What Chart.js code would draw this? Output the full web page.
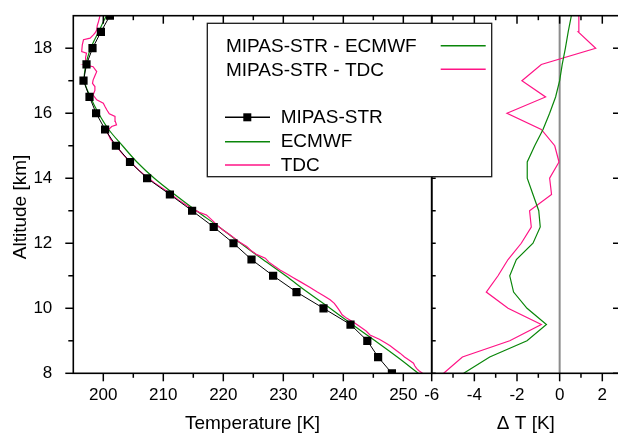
<!DOCTYPE html>
<html><head><meta charset="utf-8">
<script src="https://cdn.jsdelivr.net/npm/chart.js@4/dist/chart.umd.min.js"></script>
<style>
html,body{margin:0;padding:0;background:#fff;overflow:hidden;width:618px;height:435px;}
#wrap{position:relative;width:618px;height:435px;overflow:hidden;}
canvas{position:absolute;left:0;top:0;}
</style></head><body>
<div id="wrap">
<canvas id="c1" width="618" height="435"></canvas>
<canvas id="c2" width="630" height="435"></canvas>
</div>
<script>
// ---- data ----
const altitudes = [8, 8.5, 9, 9.5, 10, 10.5, 11, 11.5, 12, 12.5, 13, 13.5, 14, 14.5, 15, 15.5, 16, 16.5, 17, 17.5, 18, 18.5, 19];
const mipasTemp = [248.1, 245.8, 244.0, 241.2, 236.7, 232.2, 228.3, 224.7, 221.7, 218.4, 214.8, 211.1, 207.3, 204.45, 202.1, 200.3, 198.8, 197.7, 196.7, 197.2, 198.2, 199.6, 201.1];
const ecmwfTemp = [252.5, 249.0, 245.3, 241.5, 237.8, 234.0, 230.4, 226.6, 222.9, 219.3, 215.5, 211.9, 208.5, 205.6, 203.2, 200.9, 199.2, 197.85, 196.85, 197.1, 197.9, 199.2, 200.5];
const tdcAlt = [8.00, 8.08, 8.15, 8.23, 8.31, 8.40, 8.50, 8.62, 8.75, 8.85, 8.92, 9.05, 9.18, 9.30, 9.43, 9.55, 9.69, 9.80, 9.92, 10.05, 10.15, 10.26, 10.38, 10.51, 10.65, 10.82, 10.95, 11.05, 11.18, 11.30, 11.42, 11.54, 11.65, 11.78, 11.90, 12.05, 12.15, 12.26, 12.40, 12.55, 12.68, 12.82, 12.87, 12.95, 13.08, 13.20, 13.35, 13.54, 13.70, 13.85, 14.05, 14.25, 14.51, 14.75, 15.03, 15.20, 15.32, 15.43, 15.52, 15.59, 15.64, 15.75, 15.90, 15.98, 16.10, 16.20, 16.31, 16.41, 16.56, 16.70, 16.82, 16.92, 17.02, 17.15, 17.28, 17.43, 17.49, 17.60, 17.72, 17.85, 17.90, 18.10, 18.26, 18.31, 18.40, 18.46, 18.56, 18.70, 18.82, 19.00];
const tdcTemp = [253.2, 252.6, 252.2, 251.9, 251.7, 251.0, 250.2, 249.45, 248.5, 247.8, 247.2, 246.0, 244.45, 243.8, 242.8, 241.9, 240.6, 239.8, 239.4, 238.9, 238.5, 237.8, 236.8, 235.6, 234.4, 232.8, 231.6, 230.7, 229.45, 228.5, 227.6, 227.0, 225.6, 224.6, 223.9, 222.6, 221.9, 221.1, 220.0, 219.0, 218.3, 217.5, 217.2, 216.0, 214.7, 213.6, 212.4, 211.1, 209.8, 208.6, 207.2, 205.9, 204.45, 203.2, 202.0, 201.2, 200.9, 200.6, 201.0, 201.4, 202.2, 202.0, 201.95, 201.0, 200.6, 200.3, 200.0, 198.9, 198.3, 198.6, 198.6, 198.2, 198.3, 198.6, 198.9, 198.3, 196.95, 197.1, 197.0, 197.2, 196.4, 196.5, 196.7, 197.8, 198.3, 198.6, 198.9, 199.0, 199.2, 199.45];
const dTecmwf = [-4.5, -3.28, -1.53, -0.62, -1.53, -2.16, -2.34, -2.03, -1.25, -0.91, -0.98, -1.25, -1.52, -1.52, -1.17, -0.78, -0.47, -0.19, 0.0, 0.12, 0.27, 0.4, 0.55];
const dTtdc = [-5.44, -4.56, -2.34, -0.86, -2.42, -3.44, -2.89, -2.42, -1.8, -1.33, -1.41, -0.38, -0.47, -0.03, -0.23, -0.86, -2.47, -0.66, -1.77, -0.86, 1.69, 0.87, 0.9];

const altMajorTicks = [8, 10, 12, 14, 16, 18];
const altMinorTicks = [9, 11, 13, 15, 17];
const tempMajorTicks = [200, 210, 220, 230, 240, 250];
const tempMinorTicks = [205, 215, 225, 235, 245];
const dtMajorTicks = [-6, -4, -2, 0, 2];
const dtMinorTicks = [-5, -3, -1, 1];

const FONT = "'Liberation Sans', Arial, sans-serif";
const GREEN = '#0a860a';
const PINK = '#ff1486';

Chart.defaults.font.family = FONT;
Chart.defaults.color = '#000';

const pts = (xs, ys) => xs.map((v, i) => ({x: v, y: ys[i]}));

const framePlugin = {
  id: 'frame',
  beforeDatasetsDraw(chart, args, o) {
    if (!o.zeroLine) return;
    const {ctx, chartArea: a} = chart;
    const p = chart.scales.x.getPixelForValue(0);
    ctx.save();
    ctx.strokeStyle = '#8c8c8c'; ctx.lineWidth = 2;
    ctx.beginPath(); ctx.moveTo(p, a.top); ctx.lineTo(p, a.bottom); ctx.stroke();
    ctx.restore();
  },
  afterDatasetsDraw(chart, args, o) {
    const {ctx, chartArea: a} = chart;
    const xs = chart.scales.x, ys = chart.scales.y;
    ctx.save();
    ctx.strokeStyle = '#000'; ctx.lineWidth = 1.5;
    const seg = (x1, y1, x2, y2) => { ctx.beginPath(); ctx.moveTo(x1, y1); ctx.lineTo(x2, y2); ctx.stroke(); };
    o.xMajor.forEach(v => { const p = xs.getPixelForValue(v); seg(p, a.bottom, p, a.bottom + 8); seg(p, a.top, p, a.top + 8); });
    o.xMinor.forEach(v => { const p = xs.getPixelForValue(v); seg(p, a.bottom, p, a.bottom + 4.5); seg(p, a.top, p, a.top + 4.5); });
    if (o.leftOut) {
      o.yMajor.forEach(v => { const p = ys.getPixelForValue(v); seg(a.left - 8, p, a.left, p); });
      o.yMinor.forEach(v => { const p = ys.getPixelForValue(v); seg(a.left - 5, p, a.left, p); });
    }
    if (o.leftIn) {
      o.yMajor.concat(o.yMinor).forEach(v => { const p = ys.getPixelForValue(v); seg(a.left, p, a.left + 4, p); });
    }
    if (o.rightIn) {
      o.yMajor.forEach(v => { const p = ys.getPixelForValue(v); seg(a.right - 7, p, a.right, p); });
    }
    ctx.lineWidth = 1.6;
    ctx.strokeRect(a.left, a.top, a.right - a.left, a.bottom - a.top);
    ctx.restore();
  }
};

const yTitlePlugin = {
  id: 'yTitle',
  afterDraw(chart, args, o) {
    const ctx = chart.ctx;
    ctx.save();
    ctx.translate(21, 207);
    ctx.rotate(-Math.PI / 2);
    ctx.font = '19px ' + FONT;
    ctx.fillStyle = '#000';
    ctx.textAlign = 'center'; ctx.textBaseline = 'middle';
    ctx.fillText(o.text, 0, 0);
    ctx.restore();
  }
};

const fixTicks = (arr) => (scale) => { scale.ticks = arr.map(v => ({value: v})); };
const fitTo = (prop, val) => (s) => { s[prop] = val; s.paddingTop = 0; s.paddingBottom = 0; s.paddingLeft = 0; s.paddingRight = 0; };

const chart1 = new Chart(document.getElementById('c1'), {
  type: 'scatter',
  data: {
    datasets: [
      {label: 'MIPAS-STR', data: pts(mipasTemp, altitudes), showLine: true, borderColor: '#000', borderWidth: 1,
       pointStyle: 'rect', pointRadius: 5.8, pointBackgroundColor: '#000', pointBorderColor: '#000', pointBorderWidth: 0, order: 0},
      {label: 'ECMWF', data: pts(ecmwfTemp, altitudes), showLine: true, borderColor: GREEN, borderWidth: 1.2,
       pointRadius: 0, tension: 0.35, order: 2},
      {label: 'TDC', data: pts(tdcTemp, tdcAlt), showLine: true, borderColor: PINK, borderWidth: 1.2,
       pointRadius: 0, tension: 0, order: 1}
    ]
  },
  options: {
    responsive: false, animation: false, devicePixelRatio: 1,
    layout: {padding: {left: 0, top: 15.7, right: 186.3, bottom: 0}},
    plugins: {
      legend: {display: false}, tooltip: {enabled: false},
      frame: {xMajor: tempMajorTicks, xMinor: tempMinorTicks, yMajor: altMajorTicks, yMinor: altMinorTicks, leftOut: true},
      yTitle: {text: 'Altitude [km]'}
    },
    scales: {
      x: {type: 'linear', position: 'bottom', min: 195, max: 254.73,
          afterBuildTicks: fixTicks(tempMajorTicks),
          afterFit: fitTo('height', 61.7),
          grid: {display: false}, border: {display: false},
          ticks: {font: {size: 17}, padding: 4, autoSkip: false, maxRotation: 0},
          title: {display: true, text: 'Temperature [K]', font: {size: 19}, padding: {top: 1, bottom: 0}}},
      y: {type: 'linear', position: 'left', min: 8, max: 19,
          afterBuildTicks: fixTicks(altMajorTicks),
          afterFit: fitTo('width', 73.3),
          grid: {display: false}, border: {display: false},
          ticks: {font: {size: 17}, padding: 13, autoSkip: false}}
    }
  },
  plugins: [framePlugin, yTitlePlugin]
});

const legendPlugin = {
  id: 'boxLegend',
  afterDraw(chart) {
    const ctx = chart.ctx;
    const d2 = chart.data.datasets, d1 = chart1.data.datasets;
    ctx.save();
    ctx.fillStyle = '#fff';
    ctx.fillRect(207.3, 23.3, 284.4, 153.4);
    ctx.strokeStyle = '#1a1a1a'; ctx.lineWidth = 1.3;
    ctx.strokeRect(207.3, 23.3, 284.4, 153.4);
    ctx.font = '19px ' + FONT; ctx.fillStyle = '#000';
    ctx.textAlign = 'left'; ctx.textBaseline = 'middle';
    const sample = (x1, x2, y, col) => { ctx.strokeStyle = col; ctx.lineWidth = 1.4; ctx.beginPath(); ctx.moveTo(x1, y); ctx.lineTo(x2, y); ctx.stroke(); };
    ctx.fillText(d2[0].label, 226, 46.5); sample(440.7, 485.7, 45.7, d2[0].borderColor);
    ctx.fillText(d2[1].label, 226, 70.5); sample(440.7, 485.7, 69.3, d2[1].borderColor);
    const rows = [117.3, 141.7, 165];
    d1.forEach((ds, i) => {
      sample(225, 270, rows[i], ds.borderColor);
      if (i === 0) { ctx.fillStyle = '#000'; ctx.fillRect(247.3 - 4, rows[i] - 4, 8, 8); }
      ctx.fillStyle = '#000';
      ctx.fillText(ds.label, 280.7, rows[i] + 0.5);
    });
    ctx.restore();
  }
};

const chart2 = new Chart(document.getElementById('c2'), {
  type: 'scatter',
  data: {
    datasets: [
      {label: 'MIPAS-STR - ECMWF', data: pts(dTecmwf, altitudes), showLine: true, borderColor: GREEN, borderWidth: 1.2, pointRadius: 0},
      {label: 'MIPAS-STR - TDC', data: pts(dTtdc, altitudes), showLine: true, borderColor: PINK, borderWidth: 1.2, pointRadius: 0}
    ]
  },
  options: {
    responsive: false, animation: false, devicePixelRatio: 1,
    layout: {padding: {left: 431.7, top: 15.7, right: 10, bottom: 0}},
    plugins: {
      legend: {display: false}, tooltip: {enabled: false},
      frame: {xMajor: dtMajorTicks, xMinor: dtMinorTicks, yMajor: altMajorTicks, yMinor: altMinorTicks, leftIn: true, rightIn: true, zeroLine: true}
    },
    scales: {
      x: {type: 'linear', position: 'bottom', min: -6, max: 2.83,
          afterBuildTicks: fixTicks(dtMajorTicks),
          afterFit: fitTo('height', 61.7),
          grid: {display: false}, border: {display: false},
          ticks: {font: {size: 17}, padding: 4, autoSkip: false, maxRotation: 0},
          title: {display: true, text: 'Δ T [K]', font: {size: 19}, padding: {top: 1, bottom: 0}}},
      y: {type: 'linear', display: false, min: 8, max: 19}
    }
  },
  plugins: [framePlugin, legendPlugin]
});
</script>
</body></html>
